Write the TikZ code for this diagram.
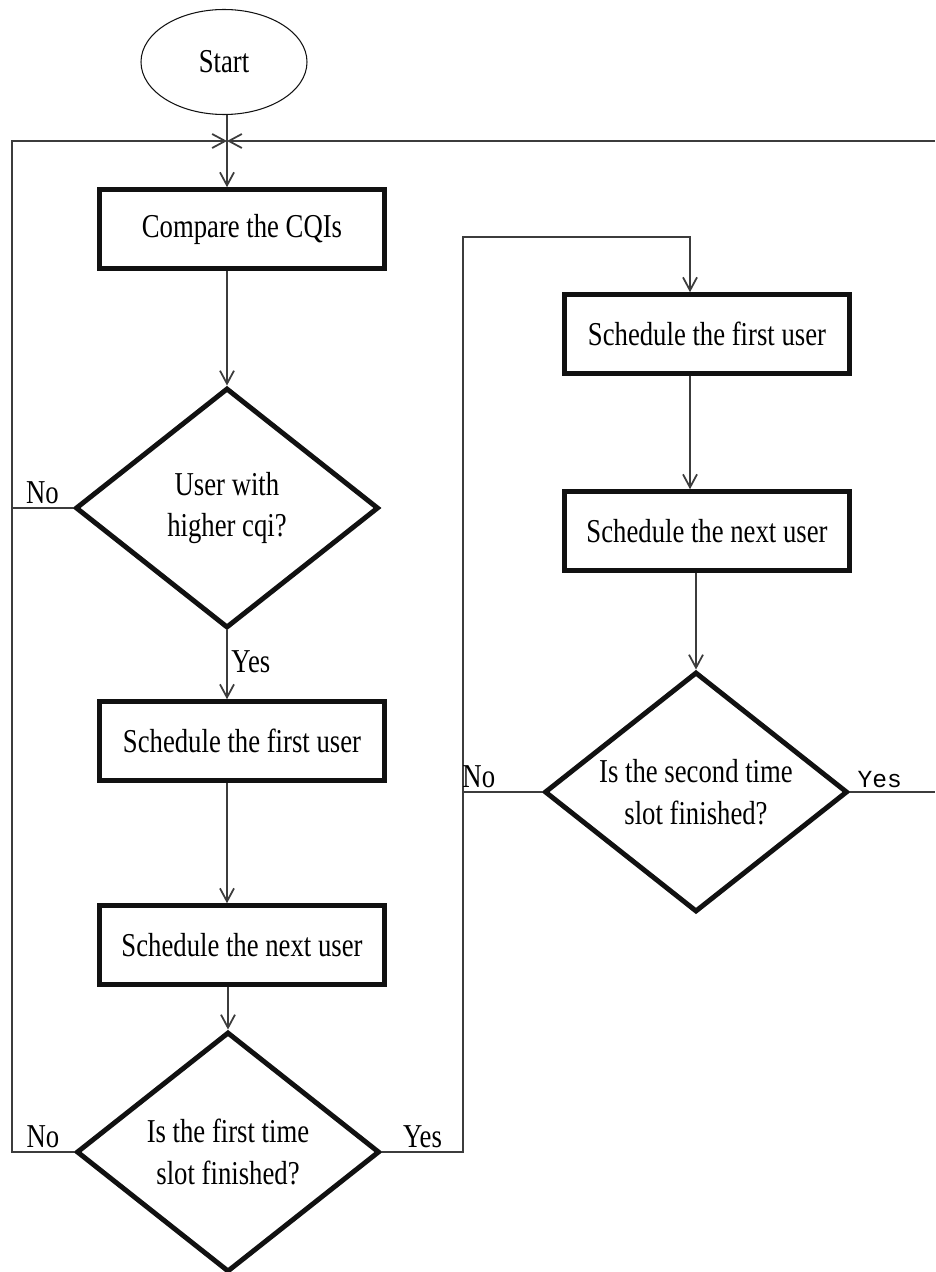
\documentclass[tikz,border=0pt]{standalone}
\usepackage{fontspec}
\setmainfont{Liberation Serif}[FakeStretch=0.8]
\setmonofont{Liberation Mono}
\usepackage{tikz}
\usetikzlibrary{arrows.meta,calc,shapes.geometric}
\definecolor{flowInk}{HTML}{111111}
\definecolor{flowWire}{HTML}{3C3C3C}

\begin{document}
\begin{tikzpicture}[
  x=0.2mm, y=-0.2mm,
  font=\fontsize{19}{23.5}\selectfont,
  terminal/.style={draw=flowInk, ellipse, line width=.6pt, minimum width=33.2mm, minimum height=21mm, inner sep=0pt},
  process/.style={draw=flowInk, line width=2.6pt, minimum width=57mm, minimum height=15.8mm, align=center, inner sep=0pt},
  decision/.style={draw=flowInk, diamond, aspect=1.26, line width=2.8pt, minimum width=60.6mm, minimum height=48mm, align=center, inner sep=0pt},
  flow/.style={-{Straight Barb[length=2.6mm,width=2.8mm]}, line width=1pt, draw=flowWire},
  link/.style={line width=1pt, draw=flowWire},
  label/.style={font=\fontsize{19}{23.5}\selectfont, inner sep=2pt}
]
  \useasboundingbox (0,0) rectangle (935,1272);

  \node[terminal] (start) at (224,62) {Start};
  \coordinate (merge) at (227,141);
  \node[process] (compare) at (242,229) {Compare the CQIs};
  \node[decision] (higher) at (227,508) {User with\\higher cqi?};
  \node[process] (firstA) at (242,741) {Schedule the first user};
  \node[process] (nextA) at (242,945) {Schedule the next user};
  \node[decision] (slotA) at (228,1152) {Is the first time\\slot finished?};

  \node[process] (firstB) at (707,334) {Schedule the first user};
  \node[process] (nextB) at (707,531) {Schedule the next user};
  \node[decision] (slotB) at (696,792) {Is the second time\\slot finished?};

  \coordinate (leftrail) at (12,0);
  \coordinate (midrail) at (463,0);
  \coordinate (bend) at (690,237);
  \coordinate (rightend) at (935,141);

  \draw[link] (start.south -| merge) -- (merge);
  \draw[flow] (merge) -- (merge |- compare.north);
  \draw[flow] (compare.south -| higher) -- (higher.north);
  \draw[flow] (higher.south) -- node[label, right, pos=.45]{Yes} (higher |- firstA.north);
  \draw[flow] (firstA.south -| higher) -- (higher |- nextA.north);
  \draw[flow] (nextA.south -| slotA) -- (slotA.north);

  \draw[link] (higher.west) -- node[label, above]{No} (higher.west -| leftrail);
  \draw[flow] (slotA.west) -- node[label, above]{No} (slotA.west -| leftrail) |- (merge);
  \draw[flow] (slotA.east) -- node[label, above]{Yes} (slotA.east -| midrail) |- (bend) -- (bend |- firstB.north);

  \draw[flow] (firstB.south -| bend) -- (bend |- nextB.north);
  \draw[flow] (nextB.south -| slotB) -- (slotB.north);
  \draw[link] (slotB.west) -- node[label, above, pos=.8]{No} (slotB.west -| midrail);
  \draw[link] (slotB.east) -- node[label, above, pos=.35]{\ttfamily\fontsize{14}{16}\selectfont Yes} (slotB.east -| rightend);
  \draw[flow] (rightend) -- (merge);
\end{tikzpicture}
\end{document}
